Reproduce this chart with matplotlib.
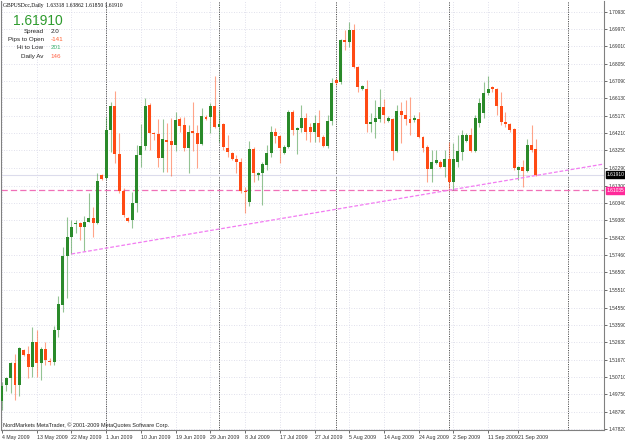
import numpy as np
import matplotlib
matplotlib.use("Agg")
import matplotlib.pyplot as plt

plt.rcParams['font.family'] = ['Liberation Sans', 'DejaVu Sans']

# ---- data (GBPUSD daily, 4 May 2009 .. 25 Sep 2009) ----
opens = [1.4939, 1.5027, 1.5066, 1.5149, 1.5027, 1.5221, 1.5199, 1.5127, 1.5265, 1.5149,
         1.5226, 1.5160, 1.5155, 1.5332, 1.5470, 1.5741, 1.5846, 1.5918, 1.5924, 1.5902,
         1.5929, 1.5951, 1.5924, 1.6189, 1.6173, 1.6438, 1.6571, 1.6306, 1.6101, 1.5951,
         1.5940, 1.6034, 1.6300, 1.6350, 1.6577, 1.6422, 1.6416, 1.6283, 1.6383, 1.6378,
         1.6355, 1.6499, 1.6466, 1.6339, 1.6433, 1.6422, 1.6361, 1.6510, 1.6510, 1.6571,
         1.6455, 1.6472, 1.6339, 1.6311, 1.6278, 1.6261, 1.6101, 1.6040, 1.6333, 1.6189,
         1.6200, 1.6245, 1.6311, 1.6427, 1.6405, 1.6311, 1.6344, 1.6538, 1.6438, 1.6449,
         1.6505, 1.6455, 1.6427, 1.6477, 1.6400, 1.6350, 1.6488, 1.6715, 1.6704, 1.6936,
         1.6925, 1.6992, 1.6787, 1.6665, 1.6665, 1.6472, 1.6483, 1.6499, 1.6566, 1.6488,
         1.6499, 1.6322, 1.6544, 1.6521, 1.6499, 1.6494, 1.6499, 1.6400, 1.6344, 1.6223,
         1.6256, 1.6261, 1.6234, 1.6278, 1.6151, 1.6261, 1.6317, 1.6378, 1.6411, 1.6322,
         1.6477, 1.6533, 1.6643, 1.6676, 1.6665, 1.6571, 1.6483, 1.6472, 1.6444, 1.6217,
         1.6234, 1.6212, 1.6355, 1.63318]
highs = [1.5044, 1.5072, 1.5155, 1.5199, 1.5235, 1.5226, 1.5243, 1.5348, 1.5332, 1.5238,
         1.5265, 1.5177, 1.5354, 1.5520, 1.5791, 1.5957, 1.5940, 1.5940, 1.5930, 1.5963,
         1.6090, 1.6012, 1.6200, 1.6195, 1.6510, 1.6593, 1.6654, 1.6422, 1.6117, 1.5957,
         1.6095, 1.6355, 1.6472, 1.6615, 1.6588, 1.6427, 1.6499, 1.6499, 1.6477, 1.6505,
         1.6538, 1.6510, 1.6510, 1.6466, 1.6593, 1.6466, 1.6560, 1.6521, 1.6588, 1.6737,
         1.6549, 1.6477, 1.6411, 1.6317, 1.6300, 1.6283, 1.6123, 1.6378, 1.6344, 1.6206,
         1.6261, 1.6355, 1.6461, 1.6449, 1.6411, 1.6355, 1.6549, 1.6549, 1.6455, 1.6577,
         1.6533, 1.6477, 1.6521, 1.6549, 1.6411, 1.6521, 1.6726, 1.6726, 1.6942, 1.6992,
         1.7036, 1.7025, 1.6793, 1.6687, 1.6715, 1.6533, 1.6604, 1.6665, 1.6610, 1.6516,
         1.6505, 1.6577, 1.6593, 1.6604, 1.6621, 1.6521, 1.6538, 1.6405, 1.6355, 1.6328,
         1.6328, 1.6272, 1.6328, 1.6372, 1.6366, 1.6411, 1.6438, 1.6422, 1.6449, 1.6521,
         1.6615, 1.6704, 1.6737, 1.6682, 1.6671, 1.6649, 1.6538, 1.6477, 1.6449, 1.6239,
         1.6272, 1.6389, 1.6466, 1.63862]
lows = [1.4889, 1.4994, 1.4983, 1.4944, 1.4966, 1.5188, 1.5066, 1.5072, 1.5072, 1.5055,
        1.5138, 1.5138, 1.5138, 1.5293, 1.5431, 1.5509, 1.5752, 1.5868, 1.5830, 1.5769,
        1.5927, 1.5846, 1.5918, 1.6162, 1.6165, 1.6317, 1.6256, 1.6090, 1.5957, 1.5929,
        1.5896, 1.5985, 1.6234, 1.6328, 1.6328, 1.6383, 1.6234, 1.6206, 1.6206, 1.6184,
        1.6322, 1.6427, 1.6322, 1.6200, 1.6322, 1.6228, 1.6355, 1.6494, 1.6422, 1.6449,
        1.6372, 1.6328, 1.6289, 1.6272, 1.6200, 1.6090, 1.5979, 1.6018, 1.6151, 1.6162,
        1.6023, 1.6217, 1.6289, 1.6366, 1.6256, 1.6306, 1.6339, 1.6411, 1.6306, 1.6427,
        1.6383, 1.6372, 1.6372, 1.6372, 1.6344, 1.6339, 1.6466, 1.6687, 1.6693, 1.6881,
        1.6898, 1.6782, 1.6649, 1.6660, 1.6427, 1.6427, 1.6394, 1.6483, 1.6477, 1.6483,
        1.6272, 1.6317, 1.6366, 1.6466, 1.6411, 1.6483, 1.6394, 1.6317, 1.6151, 1.6151,
        1.6250, 1.6228, 1.6178, 1.6101, 1.6106, 1.6234, 1.6272, 1.6372, 1.6317, 1.6317,
        1.6455, 1.6505, 1.6632, 1.6649, 1.6521, 1.6466, 1.6455, 1.6427, 1.6217, 1.6162,
        1.6123, 1.6206, 1.6317, 1.61850]
closes = [1.5022, 1.5066, 1.5149, 1.5027, 1.5232, 1.5193, 1.5127, 1.5265, 1.5149, 1.5226,
          1.5166, 1.5155, 1.5332, 1.5476, 1.5741, 1.5846, 1.5902, 1.5924, 1.5902, 1.5929,
          1.5951, 1.5924, 1.6156, 1.6167, 1.6438, 1.6571, 1.6306, 1.6101, 1.5968, 1.5935,
          1.6034, 1.6300, 1.6350, 1.6571, 1.6422, 1.6416, 1.6283, 1.6389, 1.6372, 1.6355,
          1.6494, 1.6461, 1.6339, 1.6427, 1.6422, 1.6361, 1.6516, 1.6499, 1.6571, 1.6455,
          1.6472, 1.6344, 1.6317, 1.6278, 1.6261, 1.6101, 1.6095, 1.6333, 1.6200, 1.6200,
          1.6250, 1.6311, 1.6427, 1.6405, 1.6339, 1.6344, 1.6538, 1.6438, 1.6449, 1.6505,
          1.6427, 1.6427, 1.6477, 1.6400, 1.6350, 1.6488, 1.6699, 1.6699, 1.6936, 1.6925,
          1.6992, 1.6787, 1.6676, 1.6682, 1.6472, 1.6483, 1.6505, 1.6566, 1.6521, 1.6505,
          1.6322, 1.6544, 1.6521, 1.6499, 1.6477, 1.6505, 1.6400, 1.6339, 1.6223, 1.6261,
          1.6272, 1.6234, 1.6278, 1.6151, 1.6278, 1.6322, 1.6411, 1.6411, 1.6322, 1.6505,
          1.6588, 1.6643, 1.6665, 1.6665, 1.6571, 1.6483, 1.6472, 1.6438, 1.6228, 1.6234,
          1.6212, 1.6355, 1.6328, 1.61910]

date_idx = [0, 8, 16, 24, 32, 40, 48, 56, 64, 72, 80, 88, 96, 104, 112, 119]
date_labels = ["4 May 2009", "13 May 2009", "22 May 2009", "1 Jun 2009", "10 Jun 2009",
               "19 Jun 2009", "29 Jun 2009", "8 Jul 2009", "17 Jul 2009", "27 Jul 2009",
               "5 Aug 2009", "14 Aug 2009", "24 Aug 2009", "2 Sep 2009", "11 Sep 2009",
               "21 Sep 2009"]
separator_idx = [24, 50, 77, 103, 130.4]

price_ticks = [1.70930, 1.69970, 1.69010, 1.68050, 1.67090, 1.66130, 1.65170, 1.64210,
               1.63250, 1.62290, 1.61300, 1.60340, 1.59380, 1.58420, 1.57460, 1.56500,
               1.55510, 1.54550, 1.53590, 1.52630, 1.51670, 1.50710, 1.49750, 1.48790,
               1.47820]

bid_price = 1.61910
hline_price = 1.61035
trend_idx = [16, 138.7]
trend_price = [1.5752, 1.6250]

header = "GBPUSDcc,Daily  1.63318 1.63862 1.61850 1.61910"
info_labels = ["Spread", "Pips to Open", "Hi to Low", "Daily Av"]
info_values = ["2.0", "-141", "201", "146"]
info_colors = ["#222222", "#FF5F2E", "#3CB371", "#FF6347"]

# ---- figure ----
W, H = 625, 440
fig = plt.figure(figsize=(W / 100, H / 100), dpi=100)
fig.patch.set_facecolor("white")
ax = fig.add_axes([1 / W, 10 / H, 603 / W, 429 / H])

bull = "#2A8A2A"
bear = "#FF4A14"

o = np.array(opens)
c = np.array(closes)
hi = np.array(highs)
lo = np.array(lows)
x = np.arange(len(o))
up = c >= o
col = np.where(up, bull, bear)

# grid
for p in price_ticks:
    ax.axhline(p, color="#D6D6E6", lw=0.6, ls=(0, (1, 2)), zorder=0)
for d in date_idx:
    ax.axvline(d, color="#D6D6E6", lw=0.6, ls=(0, (1, 2)), zorder=0)
for s in separator_idx:
    ax.axvline(s, color="#555555", lw=0.7, ls=(0, (1.2, 1.2)), zorder=1)

# bid line and horizontal line
ax.axhline(bid_price, color="#DCDCEC", lw=0.8, zorder=1)
ax.axhline(hline_price, color="#F070B8", lw=0.9, ls=(0, (5, 2.5)), zorder=1)

# candles
ax.vlines(x, lo, hi, colors=col, lw=0.8, alpha=0.5, zorder=2)
body = np.maximum(np.abs(c - o), 0.0004)
ax.bar(x, body, bottom=np.minimum(o, c), width=0.68, color=col, lw=0, zorder=3)

# trend line
ax.plot(trend_idx, trend_price, color="#F27CF2", lw=0.9, ls=(0, (3, 1.5)), zorder=4)

ax.set_xlim(-0.23, 138.7)
ax.set_ylim(1.4778, 1.7152)

ax.yaxis.tick_right()
ax.set_yticks(price_ticks)
ax.set_yticklabels([f"{p:.5f}" for p in price_ticks], fontsize=3.5)
ax.set_xticks(date_idx)
ax.set_xticklabels(date_labels, fontsize=3.8, ha="left")
ax.tick_params(axis="y", length=2, width=0.6, pad=1.2, colors="#555555", labelcolor="#333333")
ax.tick_params(axis="x", length=2, width=0.6, pad=1.5, colors="#555555", labelcolor="#333333")
ax.spines["top"].set_visible(False)
for side in ["right", "bottom", "left"]:
    ax.spines[side].set_color("#808080")
    ax.spines[side].set_linewidth(0.8)

# price boxes at the right
def px(xp, yp):
    return xp / W, 1 - yp / H

fig.text(*px(606.5, 174.7), f"{bid_price:.5f}", fontsize=3.5, color="white", va="center",
         ha="left", bbox=dict(boxstyle="square,pad=0.2", fc="black", ec="black"))
fig.text(*px(606.5, 190.5), f"{hline_price:.5f}", fontsize=3.5, color="white", va="center",
         ha="left", bbox=dict(boxstyle="square,pad=0.2", fc="#FF2A9A", ec="#FF2A9A"))

# header and info panel
fig.text(*px(3, 5.5), header, fontsize=4.0, family="Liberation Serif", va="center", ha="left")
fig.text(*px(12.5, 21), f"{closes[-1]:.5f}", fontsize=10, color="#2E9B2E", va="center", ha="left")
for i, (lab, val, vc) in enumerate(zip(info_labels, info_values, info_colors)):
    yy = 31.5 + 8.2 * i
    fig.text(*px(43.5, yy), lab, fontsize=4.5, color="#222222", va="center", ha="right")
    fig.text(*px(50.5, yy), val, fontsize=4.5, color=vc, va="center", ha="left")

fig.text(*px(3, 425.5), "NordMarkets MetaTrader, \u00a9 2001-2009 MetaQuotes Software Corp.",
         fontsize=4.0, color="#222222", va="center", ha="left")

fig.savefig("out.png", dpi=100, facecolor="white")
